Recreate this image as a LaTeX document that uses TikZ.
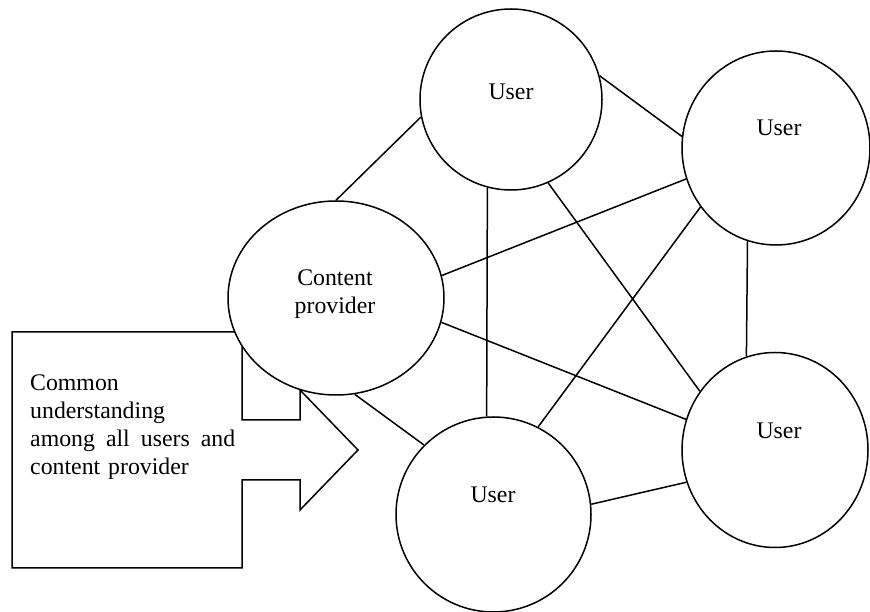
\documentclass[tikz,border=0pt]{standalone}
\usepackage{fontspec}
\setmainfont{Liberation Serif}
\usetikzlibrary{shapes.geometric}
\begin{document}
\begin{tikzpicture}[x=1pt,y=1pt,
  bub/.style={draw, ellipse, fill=white, line width=1.5pt, inner sep=0pt},
  lbl/.style={font=\fontsize{23.8}{27.8}\selectfont, inner sep=0pt},
  link/.style={line width=1.5pt},
  callout/.style={draw, fill=white, line width=1.5pt, line join=miter}]
\useasboundingbox (0,0) rectangle (870,612);
% callout arrow box
\draw[callout] (12,280) -- (242,280) -- (242,192) -- (300,192) -- (300,222)
  -- (358,162) -- (300,102) -- (300,132) -- (242,132) -- (242,44) -- (12,44) -- cycle;
\node[lbl, anchor=base west, text width=205pt, align=left] (txt) at (30,221)
  {Common\\understanding\\\leavevmode\hbox to 205pt{among\hfill all\hfill users\hfill and}\\content provider};
% bubbles
\node[bub, minimum width=216pt, minimum height=194pt] (cp) at (336,314) {};
\node[bub, minimum width=182pt, minimum height=181pt] (u1) at (511,512.5) {};
\node[bub, minimum width=188pt, minimum height=194pt] (u2) at (776,464) {};
\node[bub, minimum width=186pt, minimum height=195pt] (u3) at (775,162) {};
\node[bub, minimum width=195pt, minimum height=195pt] (u4) at (493.5,97.5) {};
% labels
\node[lbl, align=center] (cpt) at (335,318) {Content\\provider};
\node[lbl] (u1t) at (511,520) {User};
\node[lbl] (u2t) at (779,484) {User};
\node[lbl] (u3t) at (779,181) {User};
\node[lbl] (u4t) at (493,117) {User};
% connectors
\draw[link] (cp.90) -- (u1.191);
\draw[link] (u1.15) -- (u2.173);
\draw[link] (cp.12) -- (u2.199);
\draw[link] (u1.255) -- (u4.94);
\draw[link] (u1.294) -- (u3.142);
\draw[link] (u2.218) -- (u4.63);
\draw[link] (u2.253) -- (u3.107);
\draw[link] (cp.347) -- (u3.161);
\draw[link] (cp.281) -- (u4.135);
\draw[link] (u4.6) -- (u3.200);
\end{tikzpicture}
\end{document}
